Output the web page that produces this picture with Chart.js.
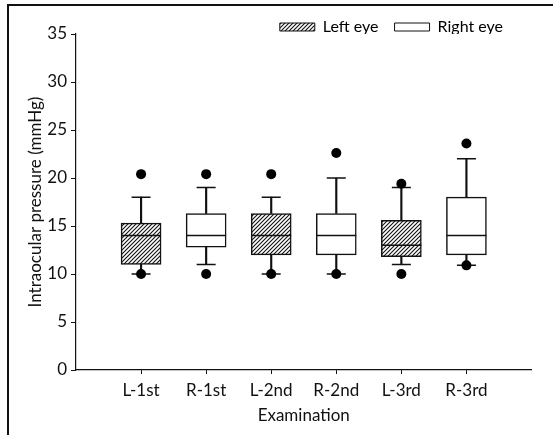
<!DOCTYPE html>
<html><head><meta charset="utf-8">
<script src="https://cdn.jsdelivr.net/npm/chart.js@4/dist/chart.umd.min.js"></script>
<style>html,body{margin:0;padding:0;background:#fff}#wrap{width:553px;height:435px;position:relative}</style>
</head><body><div id="wrap"><canvas id="c" width="553" height="435"></canvas></div>
<script>
const categories = ['L-1st','R-1st','L-2nd','R-2nd','L-3rd','R-3rd'];
const whiskerLow = [10, 11, 10, 10, 11, 10.9];
const quartile1 = [11, 12.8, 12, 12, 11.8, 12];
const medians = [14, 14, 14, 14, 13, 14];
const quartile3 = [15.3, 16.3, 16.3, 16.3, 15.6, 18];
const whiskerHigh = [18, 19, 18, 20, 19, 22];
const outlierHigh = [20.4, 20.4, 20.4, 22.6, 19.4, 23.6];
const outlierLow = [10, 10, 10, 10, 10, 10.9];
const seriesNames = ['Left eye', 'Right eye'];
const yTicks = [0, 5, 10, 15, 20, 25, 30, 35];

const INK = '#111';
const fontFam = 'Lato, "Open Sans", sans-serif';
const hatch = (() => {
  const n = 4;
  const c = document.createElement('canvas'); c.width = n; c.height = n;
  const g = c.getContext('2d');
  g.fillStyle = '#fff'; g.fillRect(0, 0, n, n);
  g.strokeStyle = INK; g.lineWidth = 1.1;
  g.beginPath();
  g.moveTo(0, n); g.lineTo(n, 0);
  g.moveTo(-n / 2, n / 2); g.lineTo(n / 2, -n / 2);
  g.moveTo(n / 2, n * 1.5); g.lineTo(n * 1.5, n / 2);
  g.stroke();
  return g.createPattern(c, 'repeat');
})();

const isLeft = i => categories[i].startsWith('L');
const idx = categories.map((c, i) => i);
const leftIdx = idx.filter(isLeft), rightIdx = idx.filter(i => !isLeft(i));
const boxData = ids => ids.map(i => ({x: i + 1, y: [quartile1[i], quartile3[i]]}));
const pts = arr => arr.map((v, i) => ({x: i + 1, y: v}));

const boxStyle = {type: 'bar', borderColor: INK, borderWidth: 1.5, borderSkipped: false, barThickness: 40, grouped: false, order: 3};
const whiskStyle = {type: 'bar', backgroundColor: INK, borderWidth: 0, barThickness: 1.5, grouped: false, order: 4};

const frame = {
  id: 'frame',
  beforeDraw(chart) {
    const ctx = chart.ctx;
    ctx.save();
    ctx.fillStyle = '#fff'; ctx.fillRect(0, 0, chart.width, chart.height);
    ctx.fillStyle = INK;
    ctx.fillRect(7, 4, chart.width - 7, 2);
    ctx.fillRect(7, 4, 2, chart.height - 4);
    ctx.restore();
  }
};
const legendShift = {
  id: 'legendShift',
  afterLayout(chart) { if (chart.legend) { chart.legend.left -= 25; chart.legend.right -= 25; } }
};

new Chart(document.getElementById('c'), {
  type: 'bar',
  data: {
    datasets: [
      Object.assign({label: seriesNames[0], data: boxData(leftIdx), backgroundColor: hatch}, boxStyle),
      Object.assign({label: seriesNames[1], data: boxData(rightIdx), backgroundColor: '#fff'}, boxStyle),
      Object.assign({label: 'wl', data: whiskerLow.map((v, i) => ({x: i + 1, y: [v, quartile1[i]]}))}, whiskStyle),
      Object.assign({label: 'wh', data: whiskerHigh.map((v, i) => ({x: i + 1, y: [quartile3[i], v]}))}, whiskStyle),
      {type: 'line', label: 'caps', data: pts(whiskerLow).concat(pts(whiskerHigh)), showLine: false,
       pointStyle: 'line', pointRadius: 9.5, pointBorderWidth: 1.5, pointBorderColor: INK, order: 1},
      {type: 'line', label: 'median', data: pts(medians), showLine: false,
       pointStyle: 'line', pointRadius: 20, pointBorderWidth: 1.5, pointBorderColor: INK, order: 0},
      {type: 'line', label: 'outliers', data: pts(outlierHigh).concat(pts(outlierLow)), showLine: false,
       pointStyle: 'circle', pointRadius: 5, pointBackgroundColor: '#000', pointBorderWidth: 0, order: 0}
    ]
  },
  options: {
    responsive: false, animation: false, events: [],
    layout: {padding: {top: 3, right: 9, bottom: 0, left: 0}},
    plugins: {
      tooltip: {enabled: false},
      legend: {
        position: 'top', align: 'end', maxHeight: 31,
        labels: {
          boxWidth: 35, boxHeight: 8, padding: 16, color: INK,
          font: {family: fontFam, size: 16},
          generateLabels: () => [
            {text: seriesNames[0], fillStyle: hatch, strokeStyle: INK, lineWidth: 1, datasetIndex: 0, hidden: false},
            {text: seriesNames[1], fillStyle: '#fff', strokeStyle: INK, lineWidth: 1, datasetIndex: 1, hidden: false}
          ]
        }
      }
    },
    scales: {
      x: {
        type: 'linear', min: 0, max: categories.length + 1, offset: false,
        ticks: {stepSize: 1, autoSkip: false, color: INK, padding: 6, font: {family: fontFam, size: 17},
                callback: v => categories[v - 1] || ''},
        grid: {drawOnChartArea: false, offset: false, tickLength: 4,
               tickColor: c => (c.tick && c.tick.value >= 1 && c.tick.value <= categories.length) ? INK : 'rgba(0,0,0,0)'},
        border: {display: true, color: INK, width: 1.2},
        title: {display: true, text: 'Examination', color: INK, font: {family: fontFam, size: 17}, padding: {top: 0, bottom: 9}},
        afterFit: s => { s.height = 65; }
      },
      y: {
        min: 0, max: 35,
        afterBuildTicks: s => { s.ticks = yTicks.map(v => ({value: v})); },
        ticks: {color: INK, padding: 4, font: {family: fontFam, size: 17}},
        grid: {drawOnChartArea: false, tickLength: 5, tickColor: INK},
        border: {display: true, color: INK, width: 1.2},
        title: {display: true, text: 'Intraocular pressure (mmHg)', color: INK, font: {family: fontFam, size: 17}, padding: {top: 25, bottom: 0}},
        afterFit: s => { s.width = 76; }
      }
    }
  },
  plugins: [frame, legendShift]
});
</script></body></html>
